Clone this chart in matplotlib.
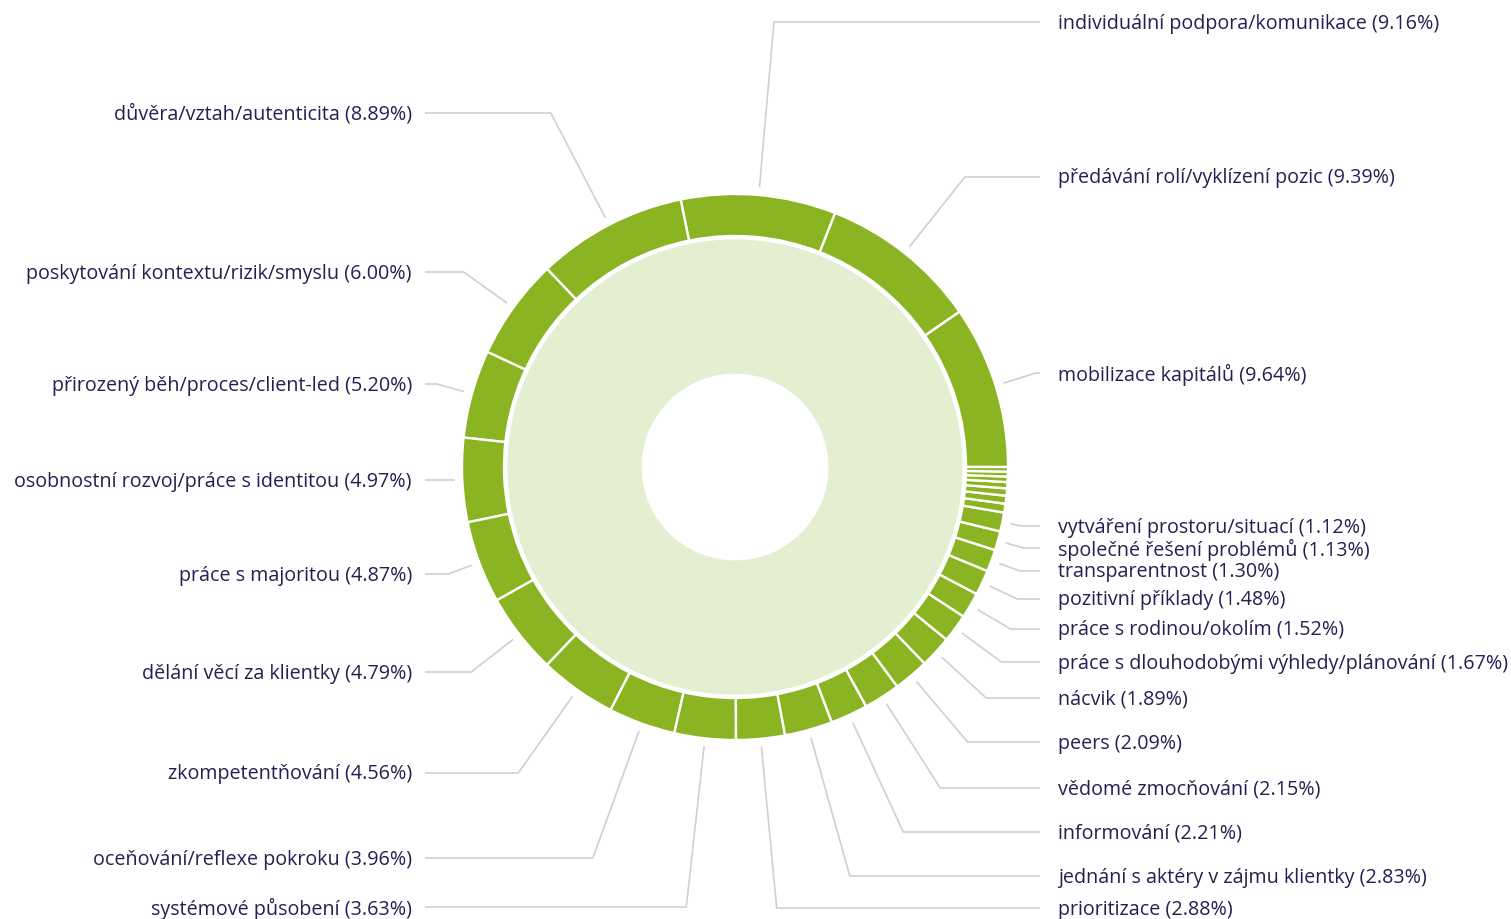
import numpy as np
import matplotlib
matplotlib.use('Agg')
import matplotlib.pyplot as plt
#
# outer ring: categories (counter-clockwise from 3 o'clock)
names = ['mobilizace kapitálů', 'předávání rolí/vyklízení pozic', 'individuální podpora/komunikace',
         'důvěra/vztah/autenticita', 'poskytování kontextu/rizik/smyslu', 'přirozený běh/proces/client-led',
         'osobnostní rozvoj/práce s identitou', 'práce s majoritou', 'dělání věcí za klientky',
         'zkompetentňování', 'oceňování/reflexe pokroku', 'systémové působení', 'prioritizace',
         'jednání s aktéry v zájmu klientky', 'informování', 'vědomé zmocňování', 'peers', 'nácvik',
         'práce s dlouhodobými výhledy/plánování', 'práce s rodinou/okolím', 'pozitivní příklady',
         'transparentnost', 'společné řešení problémů', 'vytváření prostoru/situací']
shares = [9.64, 9.39, 9.16, 8.89, 6.00, 5.20, 4.97, 4.87, 4.79, 4.56, 3.96, 3.63, 2.88,
          2.83, 2.21, 2.15, 2.09, 1.89, 1.67, 1.52, 1.48, 1.30, 1.13, 1.12]
# small unlabeled slices near 3 o'clock (estimated)
small_shares = [0.52, 0.47, 0.43, 0.37, 0.32, 0.29, 0.27]
#
# layout (pixels, y from top)
W, H = 1511, 919
cx, cy = 735, 467
r_out, r_ring, r_in, r_hole = 273, 42, 229, 92
r_anchor = 281
label_y = [373, 177, 22, 113, 272, 384, 480, 574, 672, 773, 858, 907, 908,
           876, 832, 788, 742, 698, 662, 629, 599, 571, 548, 526]
text_dy = 1.5
x_left_text, x_left_line = 412, 425
x_right_text, x_right_line = 1058, 1040
green = '#8ab422'
light = '#e4efd2'
text_c = '#2b1d52'
line_c = '#d0d0d0'
fsize = 14.2
#
plt.rcParams['font.family'] = ['Open Sans', 'DejaVu Sans']
fig = plt.figure(figsize=(W / 100, H / 100), dpi=100)
ax = fig.add_axes([0, 0, 1, 1])
values = shares + small_shares
ax.pie(values, radius=r_out, center=(cx, H - cy), startangle=0, counterclock=True,
       colors=[green] * len(values),
       wedgeprops=dict(width=r_ring, edgecolor='white', linewidth=1.7))
ax.pie([100], radius=r_in, center=(cx, H - cy), startangle=0,
       colors=[light], wedgeprops=dict(width=r_in - r_hole, edgecolor='white', linewidth=2.0))
#
total = float(np.sum(values))
start = 0.0
for i in range(len(shares)):
    mid = np.deg2rad((start + shares[i] / 2) / total * 360.0)
    start += shares[i]
    dx, dy = np.cos(mid), -np.sin(mid)  # dy in screen coords (down positive)
    ax_x = cx + r_anchor * dx
    ax_y = cy + r_anchor * dy
    ly = label_y[i]
    # extend radially until the label row
    t = (ly - ax_y) / dy if abs(dy) > 1e-6 else 0.0
    if t < 0:
        t = 0.0
    ex = ax_x + t * dx
    right = dx >= 0
    if right:
        ex = min(max(ex, ax_x), x_right_line)
        xs = [ax_x, ex, x_right_line]
    else:
        ex = max(min(ex, ax_x), x_left_line)
        xs = [ax_x, ex, x_left_line]
    ys = [ax_y, ly, ly]
    ax.plot(xs, [H - v for v in ys], color=line_c, lw=1.2, solid_capstyle='butt')
    txt = '%s (%.2f%%)' % (names[i], shares[i])
    if right:
        ax.text(x_right_text, H - ly - text_dy, txt, ha='left', va='center', fontsize=fsize, color=text_c)
    else:
        ax.text(x_left_text, H - ly - text_dy, txt, ha='right', va='center', fontsize=fsize, color=text_c)
#
ax.set_xlim(0, W)
ax.set_ylim(0, H)
ax.set_aspect('auto')
ax.axis('off')
fig.savefig('out.png', dpi=100, facecolor='white')
